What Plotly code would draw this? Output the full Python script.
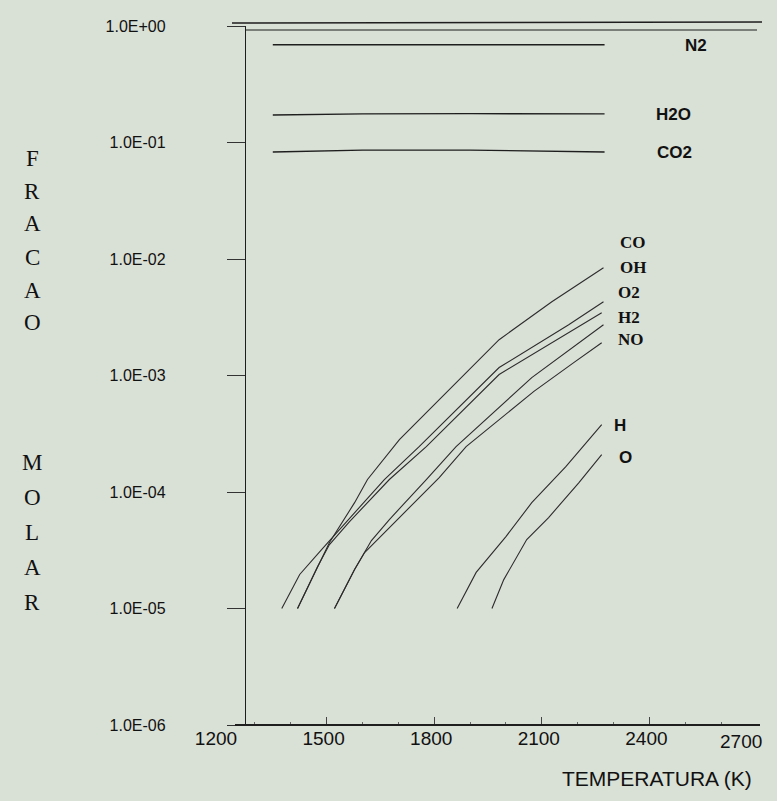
import plotly.graph_objects as go

# ---------------- data ----------------
flat_T = [1350, 1600, 1900, 2275]
N2 = [0.69, 0.69, 0.69, 0.69]
H2O = [0.172, 0.176, 0.177, 0.176]
CO2 = [0.083, 0.086, 0.086, 0.083]

CO_T = [1419, 1475, 1508, 1578, 1614, 1703, 1842, 1981, 2128, 2272]
CO_Y = [1.0e-5, 2.29e-5, 3.68e-5, 8.1e-5, 1.28e-4, 2.81e-4, 7.55e-4, 2.03e-3, 4.30e-3, 8.4e-3]

OH_T = [1375, 1425, 1486, 1569, 1661, 1758, 1981, 2175, 2272]
OH_Y = [1.0e-5, 1.96e-5, 3.2e-5, 6.15e-5, 1.28e-4, 2.45e-4, 1.17e-3, 2.73e-3, 4.3e-3]

O2_T = [1419, 1475, 1508, 1564, 1675, 1778, 1981, 2175, 2267]
O2_Y = [1.0e-5, 2.29e-5, 3.54e-5, 5.57e-5, 1.28e-4, 2.45e-4, 1.02e-3, 2.33e-3, 3.46e-3]

H2_T = [1522, 1578, 1625, 1675, 1778, 1861, 2072, 2175, 2272]
H2_Y = [1.0e-5, 2.16e-5, 3.83e-5, 5.8e-5, 1.28e-4, 2.45e-4, 9.6e-4, 1.66e-3, 2.73e-3]

NO_T = [1522, 1578, 1606, 1661, 1717, 1814, 1889, 2078, 2189, 2267]
NO_Y = [1.0e-5, 2.16e-5, 3.02e-5, 4.49e-5, 6.65e-5, 1.33e-4, 2.45e-4, 7.3e-4, 1.29e-3, 1.91e-3]

H_T = [1864, 1917, 2000, 2072, 2167, 2267]
H_Y = [1.0e-5, 2.04e-5, 4.14e-5, 8.1e-5, 1.65e-4, 3.79e-4]

O_T = [1961, 1994, 2058, 2119, 2203, 2267]
O_Y = [1.0e-5, 1.77e-5, 3.91e-5, 6.03e-5, 1.2e-4, 2.09e-4]

x_ticks = [1200, 1500, 1800, 2100, 2400, 2700]
y_ticks = [1e0, 1e-1, 1e-2, 1e-3, 1e-4, 1e-5, 1e-6]
y_ticktext = ["1.0E+00", "1.0E-01", "1.0E-02", "1.0E-03", "1.0E-04", "1.0E-05", "1.0E-06"]

sans_labels = ["N2", "H2O", "CO2", "H", "O"]
serif_labels = ["CO", "OH", "O2", "H2", "NO"]
y_title_letters = ["F", "R", "A", "C", "A", "O", "M", "O", "L", "A", "R"]

# ---------------- figure ----------------
BG = "#d9e0d6"
INK = "#1e1e1e"

fig = go.Figure()

for T, Y in [(flat_T, N2), (flat_T, H2O), (flat_T, CO2)]:
    fig.add_trace(go.Scatter(x=T, y=Y, mode="lines",
                             line=dict(color=INK, width=1.4), showlegend=False,
                             hoverinfo="skip"))

for T, Y in [(CO_T, CO_Y), (OH_T, OH_Y), (O2_T, O2_Y), (H2_T, H2_Y),
             (NO_T, NO_Y), (H_T, H_Y), (O_T, O_Y)]:
    fig.add_trace(go.Scatter(x=T, y=Y, mode="lines",
                             line=dict(color="#2c2c2c", width=1.1), showlegend=False,
                             hoverinfo="skip"))

W, H = 777, 801
PL, PR, PT, PB = 219, 757, 26, 725  # plot area in page pixels
pw = PR - PL
ph = PB - PT

def px_x(p):
    return (p - PL) / pw

def px_y(p):
    return 1 - (p - PT) / ph

# the last x tick label sits pulled in from the edge, as in the scan
x_ticktext = [str(v) for v in x_ticks[:-1]] + [""]

fig.update_layout(
    width=W, height=H,
    margin=dict(l=PL, r=W - PR, t=PT, b=H - PB, pad=0),
    paper_bgcolor=BG, plot_bgcolor=BG,
    showlegend=False,
    xaxis=dict(range=[1200, 2700], tickvals=x_ticks, ticktext=x_ticktext,
               showgrid=False, zeroline=False, showline=False,
               ticks="inside", ticklen=8, tickcolor="#444", tickwidth=1,
               minor=dict(dtick=100, ticks="inside", ticklen=3, tickcolor="#666"),
               tickfont=dict(family="Liberation Sans, Arial", size=19, color="#111"),
               ticklabelshift=-3),
    yaxis=dict(type="log", range=[-6, 0], tickvals=y_ticks, ticktext=y_ticktext,
               showgrid=False, zeroline=False, showline=True, linecolor=INK, linewidth=1.3,
               anchor="free", position=px_x(245),
               ticks="outside", ticklen=18, tickcolor="#333", tickwidth=1,
               ticklabelstandoff=58,
               tickfont=dict(family="Liberation Sans, Arial", size=16, color="#111")),
)

# frame lines of the scanned figure
fig.add_shape(type="line", xref="paper", yref="paper", x0=px_x(232), x1=px_x(762),
              y0=px_y(23), y1=px_y(22), line=dict(color=INK, width=1.5))
fig.add_shape(type="line", xref="paper", yref="paper", x0=px_x(245), x1=px_x(757),
              y0=px_y(30), y1=px_y(30), line=dict(color=INK, width=1.2))
fig.add_shape(type="line", xref="paper", yref="paper", x0=px_x(235), x1=px_x(760),
              y0=0, y1=0, line=dict(color=INK, width=1.8))

def label(txt, x, y, family, size, bold=True):
    fig.add_annotation(text=("<b>%s</b>" % txt) if bold else txt,
                       xref="paper", yref="paper", x=px_x(x), y=px_y(y),
                       xanchor="center", yanchor="middle", showarrow=False,
                       font=dict(family=family, size=size, color="#111"))

SANS = "Liberation Sans, Arial"
SERIF = "Liberation Serif, Times New Roman"

label(str(x_ticks[-1]), 741, 741, SANS, 19, bold=False)

sans_pos = [(696, 45), (673, 115), (674, 152), (620, 425), (625, 457)]
serif_pos = [(633, 242), (633, 267), (629, 293), (629, 318), (631, 339)]
for txt, (x, y) in zip(sans_labels, sans_pos):
    label(txt, x, y, SANS, 17)
for txt, (x, y) in zip(serif_labels, serif_pos):
    label(txt, x, y, SERIF, 17)

# axis titles
label("TEMPERATURA (K)", 657, 778, SANS, 21, bold=False)
title_y = [158, 191, 224, 257, 290, 323, 462, 497, 532, 567, 602]
for ch, y in zip(y_title_letters, title_y):
    label(ch, 32, y, SERIF, 23, bold=False)

post = ("document.body.style.margin='0';document.body.style.padding='0';"
        "document.body.style.overflow='hidden';"
        "document.body.style.background='%s';"
        "document.documentElement.style.background='%s';" % (BG, BG))

fig.write_html("out.html", post_script=post, config={"displayModeBar": False})
